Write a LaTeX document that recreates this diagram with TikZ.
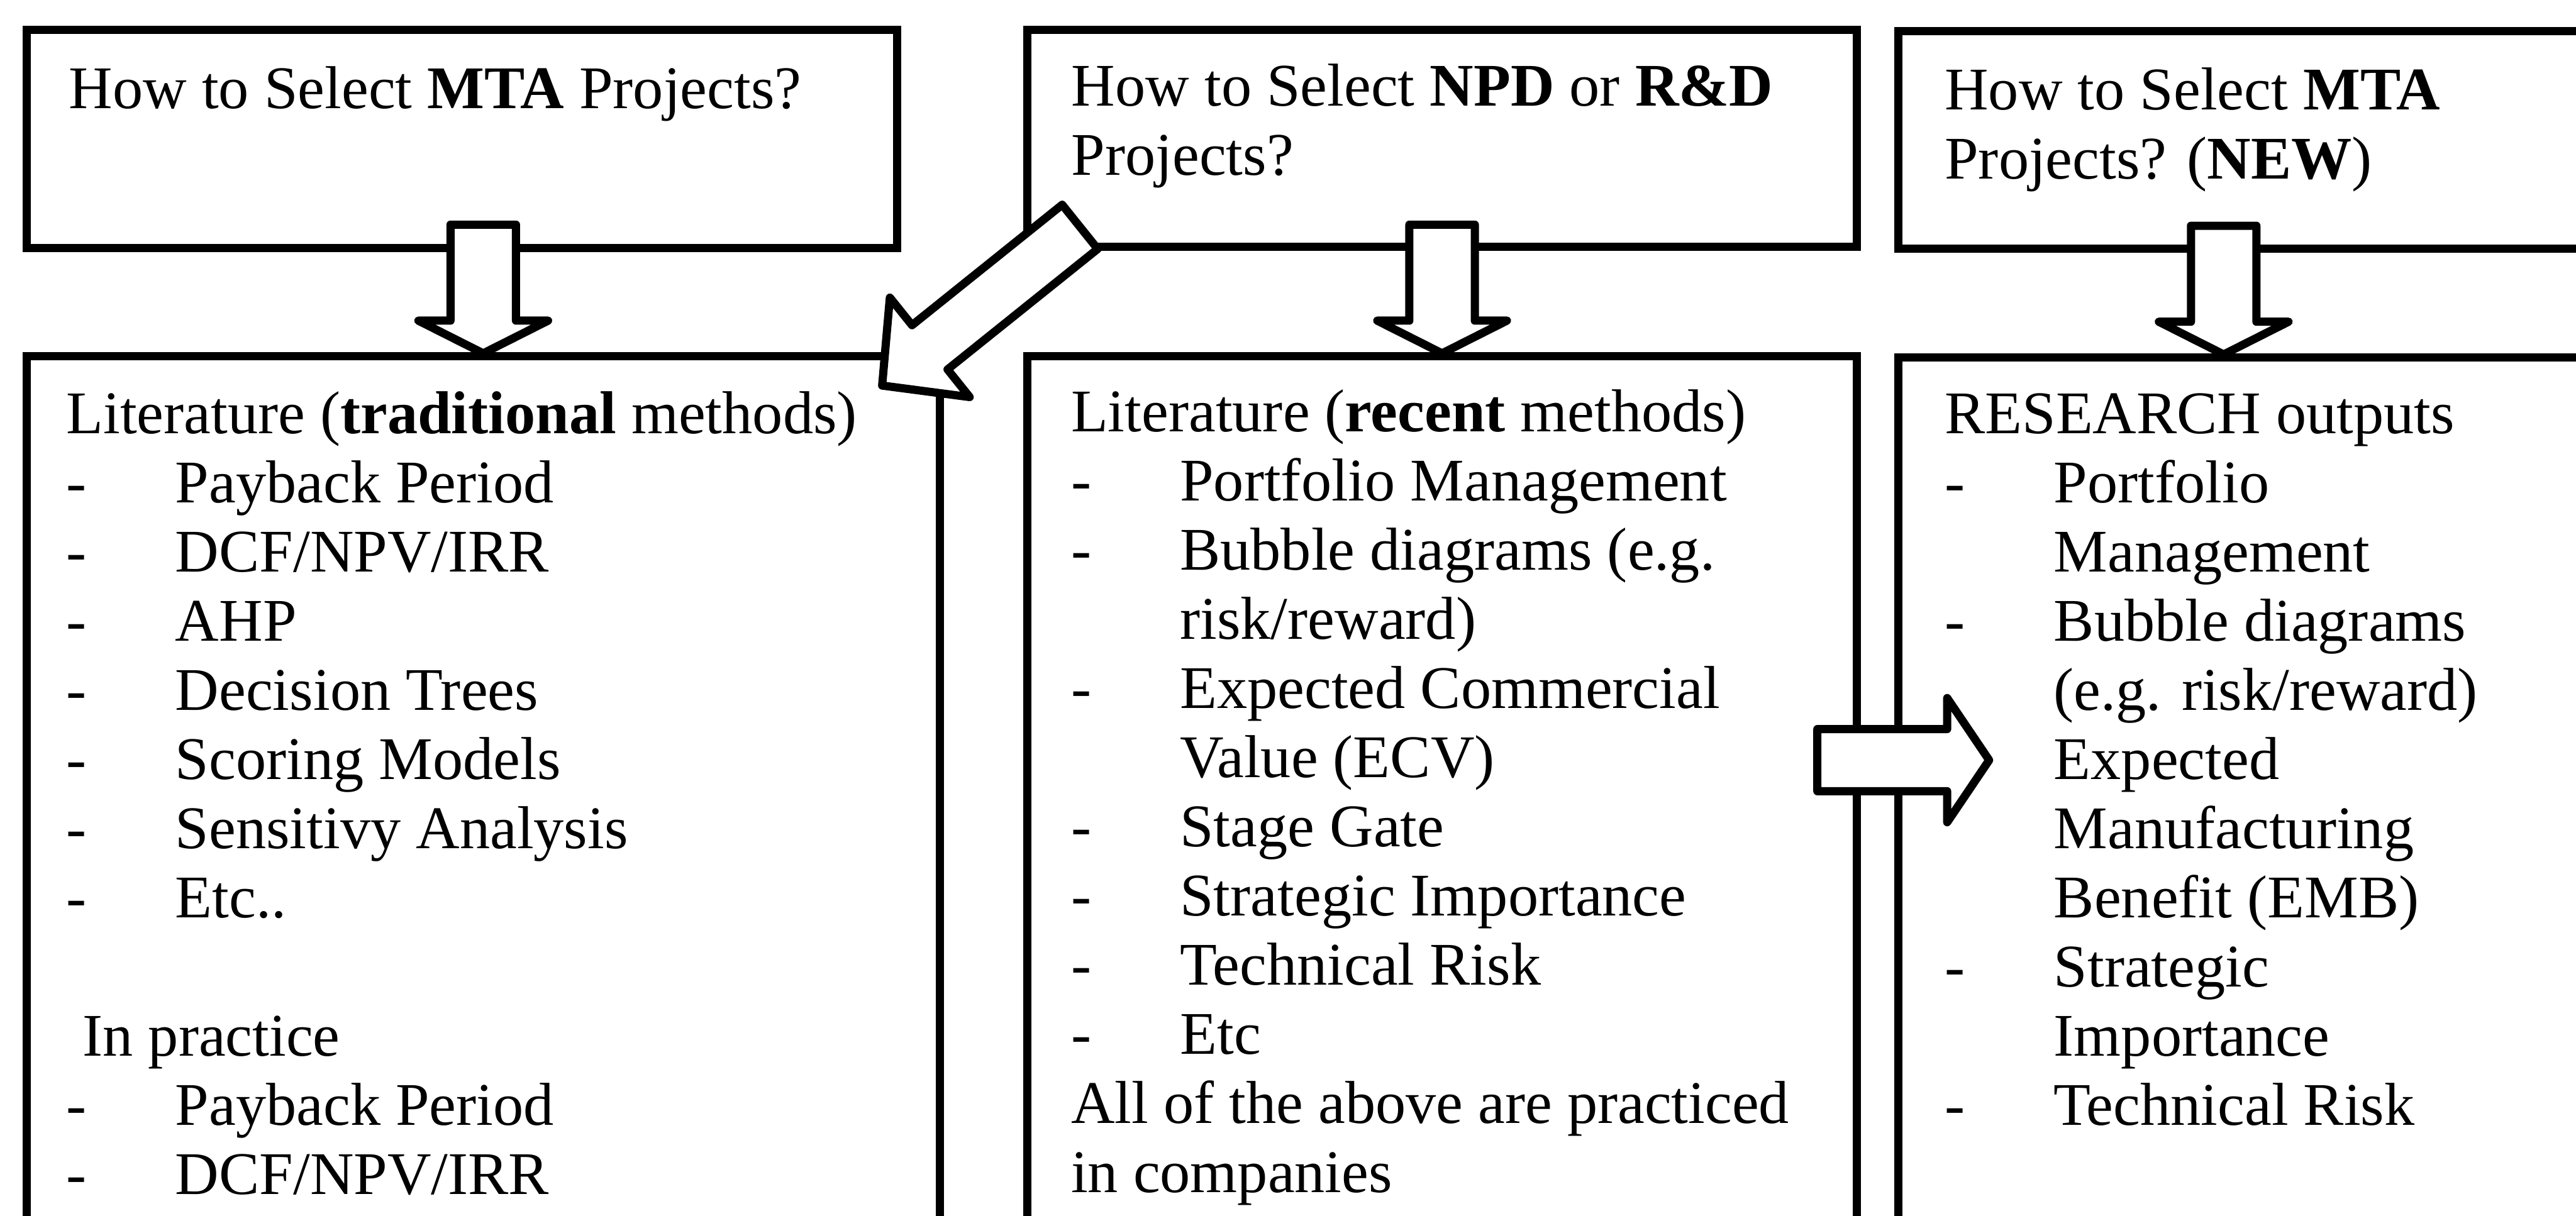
\documentclass[tikz,border=0pt]{standalone}
\usepackage{fontspec}
\setmainfont{Liberation Serif}
\usetikzlibrary{calc}
\newcommand{\lw}{0.15cm}
\newcommand{\litem}[1]{\makebox[2cm][l]{-}#1}
\newcommand{\lcont}[1]{\hspace*{2cm}#1}
% hollow block arrow along +x: length, head length, shaft half width, head half width
\newcommand{\blockarrow}[4]{%
  \draw[bigarrow] (0,#3) -- ({#1-#2},#3) -- ({#1-#2},#4) -- (#1,0)
    -- ({#1-#2},-#4) -- ({#1-#2},-#3) -- (0,-#3) -- cycle;}

\tikzset{
  box/.style={draw, line width=\lw, inner sep=0pt, anchor=north west},
  txt/.style={anchor=base west, inner sep=0pt, font=\fontsize{31.6}{36.1}\selectfont},
  bigarrow/.style={draw, fill=white, line width=\lw, line join=round}
}

\begin{document}
\begin{tikzpicture}
    \useasboundingbox (0,0) rectangle (47.23,-22.30);
    \clip (0,0) rectangle (47.23,-22.30);

    % question boxes
    \node[box, minimum width=15.96cm, minimum height=4.0cm] (boxA) at (0.41,-0.47) {};
    \node[box, minimum width=15.21cm, minimum height=3.98cm] (boxB) at (18.76,-0.47) {};
    \node[box, minimum width=14cm, minimum height=3.98cm] (boxC) at (34.73,-0.50) {};

    % method boxes, running off the bottom
    \node[box, minimum width=16.75cm, minimum height=16.5cm] (boxD) at (0.41,-6.46) {};
    \node[box, minimum width=15.21cm, minimum height=16.5cm] (boxE) at (18.76,-6.46) {};
    \node[box, minimum width=14cm, minimum height=16.5cm] (boxF) at (34.73,-6.48) {};

    \node[txt] (tA) at ($(boxA.north west)+(0.85,-1.52)$) {How to Select \textbf{MTA} Projects?};
    \node[txt] (tB) at ($(boxB.north west)+(0.88,-1.47)$) {\begin{tabular}[t]{@{}l@{}}
        How to Select \textbf{NPD} or \textbf{R\&D}\\
        Projects?
    \end{tabular}};
    \node[txt] (tC) at ($(boxC.north west)+(0.92,-1.51)$) {\begin{tabular}[t]{@{}l@{}}
        How to Select \textbf{MTA}\\
        Projects? (\textbf{NEW})
    \end{tabular}};

    \node[txt] (tD) at ($(boxD.north west)+(0.80,-1.49)$) {\begin{tabular}[t]{@{}l@{}}
        Literature (\textbf{traditional} methods)\\
        \litem{Payback Period}\\
        \litem{DCF/NPV/IRR}\\
        \litem{AHP}\\
        \litem{Decision Trees}\\
        \litem{Scoring Models}\\
        \litem{Sensitivy Analysis}\\
        \litem{Etc..}\\
        \\
        \hspace*{0.3cm}In practice\\
        \litem{Payback Period}\\
        \litem{DCF/NPV/IRR}
    \end{tabular}};
    \node[txt] (tE) at ($(boxE.north west)+(0.87,-1.45)$) {\begin{tabular}[t]{@{}l@{}}
        Literature (\textbf{recent} methods)\\
        \litem{Portfolio Management}\\
        \litem{Bubble diagrams (e.g.}\\
        \lcont{risk/reward)}\\
        \litem{Expected Commercial}\\
        \lcont{Value (ECV)}\\
        \litem{Stage Gate}\\
        \litem{Strategic Importance}\\
        \litem{Technical Risk}\\
        \litem{Etc}\\
        All of the above are practiced\\
        in companies
    \end{tabular}};
    \node[txt] (tF) at ($(boxF.north west)+(0.92,-1.47)$) {\begin{tabular}[t]{@{}l@{}}
        RESEARCH outputs\\
        \litem{Portfolio}\\
        \lcont{Management}\\
        \litem{Bubble diagrams}\\
        \lcont{(e.g. risk/reward)}\\
        \lcont{Expected}\\
        \lcont{Manufacturing}\\
        \lcont{Benefit (EMB)}\\
        \litem{Strategic}\\
        \lcont{Importance}\\
        \litem{Technical Risk}
    \end{tabular}};

    % arrows go on top of the boxes
    \coordinate (ad) at ($(boxD.north)+(0,2.34)$);
    \coordinate (be) at ($(boxE.north)+(0,2.34)$);
    \coordinate (cf) at ($(boxF.north west)+(6.04,2.34)$);
    \coordinate (bd) at ($(boxB.south west)+(1.04,0.44)$);
    \coordinate (ef) at ($(boxE.north east)+(-0.80,-7.48)$);

    \begin{scope}[shift={(ad)}, rotate=-90] \blockarrow{2.36}{0.60}{0.60}{1.19} \end{scope}
    \begin{scope}[shift={(be)}, rotate=-90] \blockarrow{2.36}{0.60}{0.60}{1.19} \end{scope}
    \begin{scope}[shift={(cf)}, rotate=-90] \blockarrow{2.36}{0.60}{0.60}{1.19} \end{scope}
    \begin{scope}[shift={(bd)}, rotate=218.75] \blockarrow{4.65}{1.12}{0.52}{1.17} \end{scope}
    \begin{scope}[shift={(ef)}] \blockarrow{3.15}{0.77}{0.57}{1.14} \end{scope}
\end{tikzpicture}
\end{document}
